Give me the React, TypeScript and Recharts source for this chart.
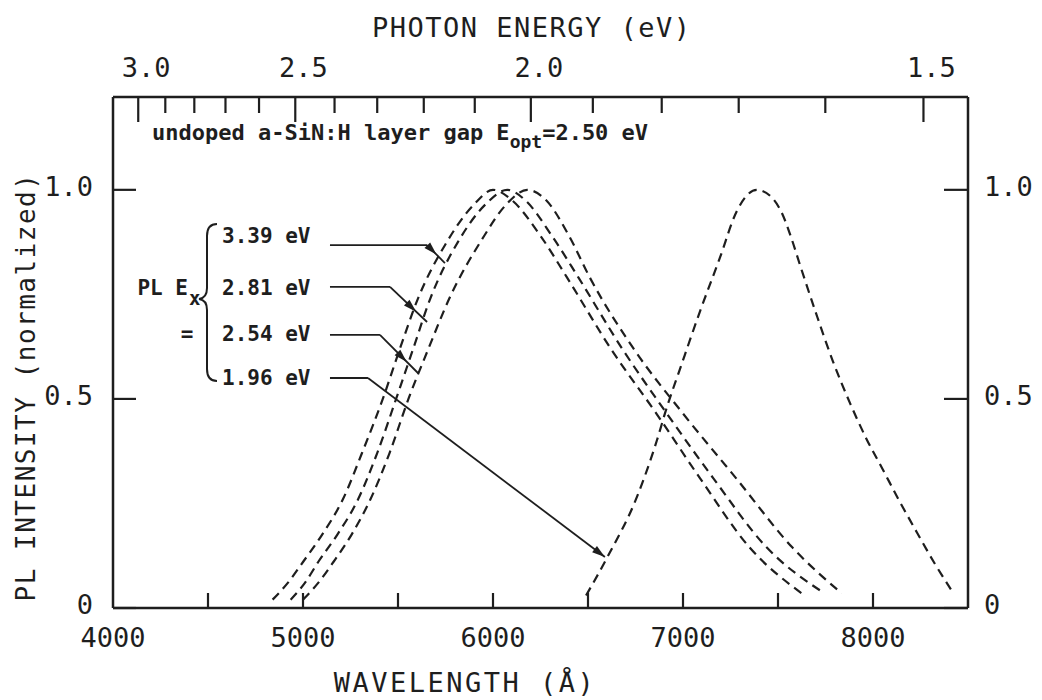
import React from 'react';
import { LineChart, Line, XAxis, YAxis, ReferenceLine } from 'recharts';

// ---------- data ----------
const HC = 12398.4; // eV·Å
const WAVELENGTH_TICKS = [4000, 4500, 5000, 5500, 6000, 6500, 7000, 7500, 8000, 8500];
const WAVELENGTH_LABELS = [4000, 5000, 6000, 7000, 8000];
const ENERGY_TICKS = [3.0, 2.9, 2.8, 2.7, 2.6, 2.5, 2.4, 2.3, 2.2, 2.1, 2.0, 1.9, 1.8, 1.7, 1.6, 1.5];
const ENERGY_LABELS = ['3.0', '2.5', '2.0', '1.5'];
const INTENSITY_TICKS = [0, 0.5, 1.0];
const INTENSITY_LABELS = ['0', '0.5', '1.0'];
const EX_LABELS = ['3.39 eV', '2.81 eV', '2.54 eV', '1.96 eV'];

// [wavelength Å, normalized PL intensity]
const PL_339: [number, number][] = [
  [4840, 0.02], [4920, 0.06], [5000, 0.11], [5100, 0.175], [5210, 0.26], [5310, 0.37], [5420, 0.5],
  [5510, 0.62], [5605, 0.74], [5750, 0.87], [5900, 0.965], [6000, 1.0], [6100, 0.975], [6250, 0.89],
  [6390, 0.79], [6620, 0.62], [6860, 0.465], [7090, 0.31], [7350, 0.145], [7625, 0.035],
];
const PL_281: [number, number][] = [
  [4935, 0.02], [5010, 0.06], [5080, 0.11], [5180, 0.175], [5290, 0.26], [5390, 0.37], [5490, 0.5],
  [5580, 0.62], [5670, 0.74], [5815, 0.875], [5960, 0.965], [6075, 1.0], [6170, 0.975], [6310, 0.89],
  [6450, 0.79], [6680, 0.62], [6915, 0.465], [7160, 0.31], [7440, 0.145], [7745, 0.035],
];
const PL_254: [number, number][] = [
  [5000, 0.02], [5080, 0.06], [5160, 0.11], [5255, 0.175], [5355, 0.26], [5455, 0.37], [5555, 0.5],
  [5660, 0.62], [5770, 0.74], [5940, 0.88], [6070, 0.965], [6180, 1.0], [6280, 0.975], [6400, 0.89],
  [6510, 0.79], [6740, 0.62], [7000, 0.465], [7280, 0.31], [7575, 0.145], [7835, 0.035],
];
const PL_196: [number, number][] = [
  [6490, 0.03], [6600, 0.12], [6757, 0.265], [6862, 0.4], [6915, 0.48], [6983, 0.57], [7090, 0.71],
  [7193, 0.836], [7283, 0.949], [7388, 1.0], [7460, 0.985], [7520, 0.945], [7570, 0.885], [7616, 0.82],
  [7700, 0.705], [7789, 0.59], [7879, 0.49], [7965, 0.405], [8053, 0.33], [8140, 0.255], [8232, 0.18],
  [8320, 0.11], [8412, 0.043],
];

// annotation leader lines: start, knee, arrow end (data coords)
const LEADER_START = [[5142, 0.868], [5142, 0.768], [5142, 0.653], [5142, 0.55]];
const LEADER_KNEE = [[5653, 0.868], [5458, 0.768], [5405, 0.653], [5342, 0.55]];
const LEADER_END = [[5747, 0.825], [5653, 0.684], [5605, 0.562], [6589, 0.122]];
const ARROW_BACK = [12, 15, 16, 0];

const toPts = (a: [number, number][]) => a.map(([w, v]) => ({ w, v }));

// ---------- styling ----------
const INK = '#1e1e1e';
const MONO = '"DejaVu Sans Mono", monospace';
const W = 1030;
const H = 690;

const BottomTick = (props: any) => {
  const { x, y, payload } = props;
  const v = payload.value;
  const inner = v > 4000 && v < 8500;
  const show = WAVELENGTH_LABELS.includes(v);
  return (
    <g>
      {inner && <line x1={x} y1={y} x2={x} y2={y - 15} stroke={INK} strokeWidth={2.2} />}
      {show && (
        <text x={x} y={y + 39} textAnchor="middle" fontFamily={MONO} fontSize={27} fill={INK}>
          {v}
        </text>
      )}
    </g>
  );
};

const TopTick = (props: any) => {
  const { x, y, payload } = props;
  const e = (HC / payload.value).toFixed(1);
  const major = ENERGY_LABELS.includes(e);
  return (
    <g>
      <line x1={x} y1={y} x2={x} y2={y + (major ? 25 : 16)} stroke={INK} strokeWidth={2.2} />
      {major && (
        <text x={x + 8} y={y - 20} textAnchor="middle" fontFamily={MONO} fontSize={27} fill={INK}>
          {e}
        </text>
      )}
    </g>
  );
};

const LeftTick = (props: any) => {
  const { x, y, index } = props;
  return (
    <g>
      <line x1={x} y1={y} x2={x + 23} y2={y} stroke={INK} strokeWidth={2.2} />
      <text x={x - 20} y={y + 6} textAnchor="end" fontFamily={MONO} fontSize={27} fill={INK}>
        {INTENSITY_LABELS[index]}
      </text>
    </g>
  );
};

const RightTick = (props: any) => {
  const { x, y, index } = props;
  return (
    <g>
      <line x1={x} y1={y} x2={x - 24} y2={y} stroke={INK} strokeWidth={2.2} />
      <text x={x + 16} y={y + 6} textAnchor="start" fontFamily={MONO} fontSize={27} fill={INK}>
        {INTENSITY_LABELS[index]}
      </text>
    </g>
  );
};

const arrowShape = (back: number) => (p: any) => {
  const { x1, y1, x2, y2 } = p;
  const dx = x2 - x1;
  const dy = y2 - y1;
  const len = Math.hypot(dx, dy) || 1;
  const ux = dx / len;
  const uy = dy / len;
  const tx = x2 - ux * back;
  const ty = y2 - uy * back;
  const L = 13;
  const hw = 4;
  const bx = tx - ux * L;
  const by = ty - uy * L;
  const pts = `${tx},${ty} ${bx - uy * hw},${by + ux * hw} ${bx + uy * hw},${by - ux * hw}`;
  return (
    <g>
      <line x1={x1} y1={y1} x2={x2} y2={y2} stroke={INK} strokeWidth={1.8} />
      <polygon points={pts} fill={INK} />
    </g>
  );
};

const SERIES = [PL_339, PL_281, PL_254, PL_196];

export default function App() {
  return (
    <div style={{ position: 'relative', width: W, height: H, background: '#fff' }}>
      <LineChart width={W} height={H} margin={{ top: 39, right: 10, bottom: 40, left: 45 }}>
        <XAxis
          xAxisId="bottom"
          orientation="bottom"
          type="number"
          dataKey="w"
          domain={[4000, 8500]}
          ticks={WAVELENGTH_TICKS}
          interval={0}
          allowDataOverflow
          height={50}
          tickSize={0}
          tickMargin={0}
          tickLine={false}
          axisLine={{ stroke: INK, strokeWidth: 2.5 }}
          tick={<BottomTick />}
        />
        <XAxis
          xAxisId="top"
          orientation="top"
          type="number"
          dataKey="w"
          domain={[4000, 8500]}
          ticks={ENERGY_TICKS.map((e) => HC / e)}
          interval={0}
          allowDataOverflow
          height={50}
          tickSize={0}
          tickMargin={0}
          tickLine={false}
          axisLine={{ stroke: INK, strokeWidth: 2.5 }}
          tick={<TopTick />}
        />
        <YAxis
          yAxisId="left"
          orientation="left"
          type="number"
          domain={[0, 1.222]}
          ticks={INTENSITY_TICKS}
          interval={0}
          allowDataOverflow
          width={60}
          tickSize={0}
          tickMargin={0}
          tickLine={false}
          axisLine={{ stroke: INK, strokeWidth: 2.5 }}
          tick={<LeftTick />}
        />
        <YAxis
          yAxisId="right"
          orientation="right"
          type="number"
          domain={[0, 1.222]}
          ticks={INTENSITY_TICKS}
          interval={0}
          allowDataOverflow
          width={60}
          tickSize={0}
          tickMargin={0}
          tickLine={false}
          axisLine={{ stroke: INK, strokeWidth: 2.5 }}
          tick={<RightTick />}
        />
        {/* invisible copy bound to the energy (top) axis so that it gets a scale */}
        <Line
          xAxisId="top"
          yAxisId="right"
          data={toPts(PL_196)}
          dataKey="v"
          stroke="none"
          strokeOpacity={0}
          dot={false}
          activeDot={false}
          legendType="none"
          isAnimationActive={false}
        />
        {SERIES.map((s, i) => (
          <Line
            key={EX_LABELS[i]}
            name={EX_LABELS[i]}
            xAxisId="bottom"
            yAxisId="left"
            data={toPts(s)}
            dataKey="v"
            type="monotone"
            stroke={INK}
            strokeWidth={2.2}
            strokeDasharray="9 6"
            dot={false}
            activeDot={false}
            isAnimationActive={false}
          />
        ))}
        {EX_LABELS.map((lab, i) => (
          <ReferenceLine
            key={'h' + lab}
            xAxisId="bottom"
            yAxisId="left"
            segment={[
              { x: LEADER_START[i][0], y: LEADER_START[i][1] },
              { x: LEADER_KNEE[i][0], y: LEADER_KNEE[i][1] },
            ]}
            stroke={INK}
            strokeWidth={1.8}
          />
        ))}
        {EX_LABELS.map((lab, i) => (
          <ReferenceLine
            key={'d' + lab}
            xAxisId="bottom"
            yAxisId="left"
            segment={[
              { x: LEADER_KNEE[i][0], y: LEADER_KNEE[i][1] },
              { x: LEADER_END[i][0], y: LEADER_END[i][1] },
            ]}
            stroke={INK}
            strokeWidth={1.8}
            shape={arrowShape(ARROW_BACK[i])}
          />
        ))}
      </LineChart>
      <svg
        width={W}
        height={H}
        style={{ position: 'absolute', left: 0, top: 0, pointerEvents: 'none' }}
      >
        <g transform="translate(-8,-8)" fill={INK}>
          <text x={372} y={37} fontFamily={MONO} fontSize={27} letterSpacing={1.5}>
            PHOTON ENERGY (eV)
          </text>
          <text x={465} y={692} textAnchor="middle" fontFamily={MONO} fontSize={27} letterSpacing={2.5}>
            WAVELENGTH (Å)
          </text>
          <text
            x={35}
            y={387}
            transform="rotate(-90 35 387)"
            textAnchor="middle"
            fontFamily={MONO}
            fontSize={26}
            letterSpacing={1.5}
          >
            PL INTENSITY (normalized)
          </text>
          <text x={152} y={140} fontFamily={MONO} fontSize={22} fontWeight="bold">
            undoped a-SiN:H layer gap E
            <tspan fontSize={18} dy={8}>opt</tspan>
            <tspan dy={-8}>=2.50 eV</tspan>
          </text>
          {EX_LABELS.map((lab, i) => (
            <text
              key={lab}
              x={222}
              y={[243, 295, 341, 385][i]}
              fontFamily={MONO}
              fontSize={21}
              fontWeight="bold"
            >
              {lab}
            </text>
          ))}
          <text x={188} y={295} textAnchor="end" fontFamily={MONO} fontSize={21} fontWeight="bold">
            PL E
          </text>
          <text x={189} y={305} fontFamily={MONO} fontSize={19} fontWeight="bold">x</text>
          <text x={187} y={341} textAnchor="middle" fontFamily={MONO} fontSize={21} fontWeight="bold">=</text>
          <path
            d="M 217 224 Q 207 224 207 236 L 207 288 Q 207 298 199 299 Q 207 300 207 310 L 207 369 Q 207 381 217 381"
            fill="none"
            stroke={INK}
            strokeWidth={2}
          />
        </g>
      </svg>
    </div>
  );
}
